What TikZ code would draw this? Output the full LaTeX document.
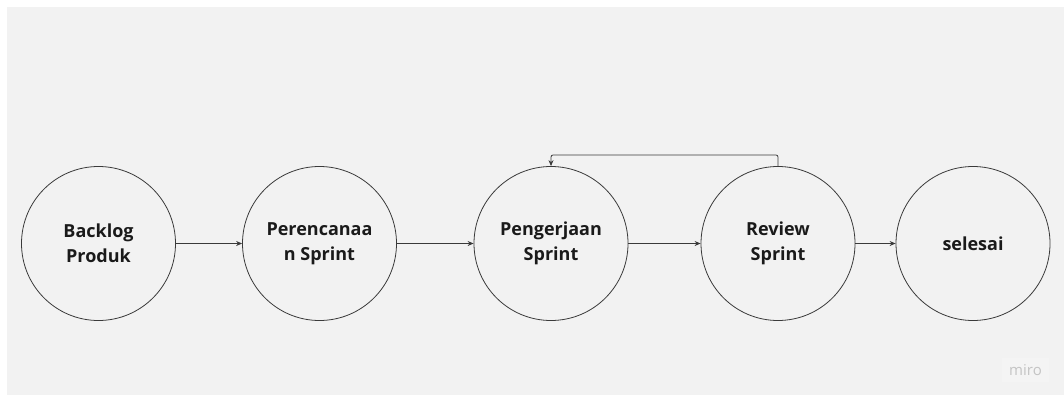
\documentclass[tikz,border=0pt]{standalone}
\usepackage{fontspec}
\setmainfont{Open Sans}
\usetikzlibrary{arrows.meta}
\definecolor{bg}{HTML}{F2F2F2}
\definecolor{ln}{HTML}{3A3A3A}
\definecolor{tx}{HTML}{1A1A1A}
\definecolor{logo}{HTML}{C4C4C4}
\definecolor{logobg}{HTML}{F4F4F4}
\tikzset{
  stage/.style={circle, draw=ln, line width=0.8pt, minimum size=154pt, inner sep=0pt,
    align=center, font=\bfseries\fontsize{18}{25}\selectfont, text=tx},
  flow/.style={draw=ln, line width=0.8pt, -{Stealth[length=6pt,width=5pt]}}
}
\begin{document}
\begin{tikzpicture}[x=1pt,y=-1pt]
\useasboundingbox (0,0) rectangle (1064,396);
\fill[white] (0,0) rectangle (1064,396);
\fill[bg] (7,7) rectangle (1064,395);
\node[stage] (a) at (98.5,243.5) {Backlog\\Produk};
\node[stage] (b) at (319.5,243.5) {Perencanaa\\n Sprint};
\node[stage] (c) at (551,243.5) {Pengerjaan\\Sprint};
\node[stage] (d) at (778,243.5) {Review\\Sprint};
\node[stage] (e) at (973,243.5) {selesai};
\draw[flow] (a) -- (b);
\draw[flow] (b) -- (c);
\draw[flow] (c) -- (d);
\draw[flow] (d) -- (e);
\coordinate (t1) at (778,155);
\coordinate (t2) at (551,155);
\draw[flow, rounded corners=2pt] (d.north) -- (t1) -- (t2) -- (c.north);
\node[fill=logobg, minimum width=47pt, minimum height=24pt, inner sep=0pt,
  text=logo, font=\fontsize{15}{17}\selectfont] (logo) at (1025.5,370) {miro};
\end{tikzpicture}
\end{document}
